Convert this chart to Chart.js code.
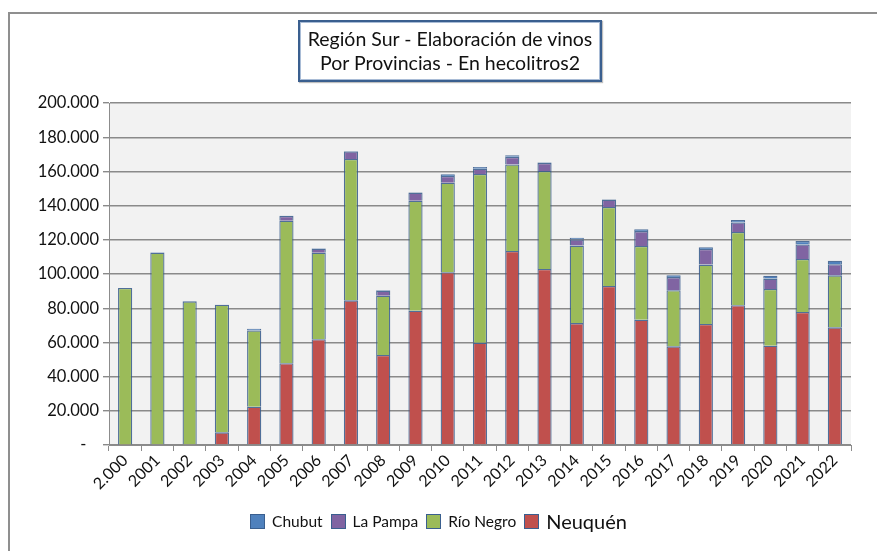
<!DOCTYPE html>
<html>
<head>
<meta charset="utf-8">
<script src="https://cdn.jsdelivr.net/npm/chart.js@4/dist/chart.umd.min.js"></script>
<style>
  html, body { margin: 0; padding: 0; background: #fff; }
  #wrap { position: relative; width: 877px; height: 551px; overflow: hidden; font-family: Lato, "Open Sans", sans-serif; }
  #frame { position: absolute; left: 8px; top: 12px; width: 900px; height: 600px; border: 2px solid #8f8f8f; box-sizing: border-box; }
  #title { position: absolute; left: 298px; top: 20px; width: 304px; height: 62px; box-sizing: border-box;
           border: 2px solid #3a5f8f; box-shadow: inset 0 0 0 1px #a9bcd6, 1px 1px 1px rgba(0,0,0,0.25);
           background: #fff; text-align: center; font-size: 19.5px; line-height: 24px; padding-top: 5px; color: #111; white-space: nowrap; }
  #legend { position: absolute; top: 509px; left: 0; width: 877px; display: flex; justify-content: center; align-items: center; font-size: 15.5px; color: #111; }
  .item { display: flex; align-items: center; margin: 0 4px; }
  .box { width: 13px; height: 13px; border: 1px solid #3a5f8f; margin-right: 7px; }
  canvas { position: absolute; left: 0; top: 0; }
</style>
</head>
<body>
<div id="wrap">
  <div id="frame"></div>
  <canvas id="c" width="877" height="551"></canvas>
  <div id="title">Región Sur - Elaboración de vinos<br>Por Provincias - En hecolitros2</div>
  <div id="legend"></div>
</div>
<script>
const years = ['2.000','2001','2002','2003','2004','2005','2006','2007','2008','2009','2010','2011','2012','2013','2014','2015','2016','2017','2018','2019','2020','2021','2022'];
const neuquen  = [300,500,500,7400,22400,47800,61800,84600,52600,78500,101000,59800,113500,102900,71300,93000,73300,57700,70800,81700,58100,77800,68800];
const rioNegro = [91500,112000,83500,74600,44600,83400,50700,82700,34700,64400,52400,98700,50600,57300,45300,46200,43100,32800,34700,42900,33100,31000,30400];
const laPampa  = [0,0,0,0,0,2800,2300,4400,3000,4700,3900,3100,4400,4800,3600,4300,8700,7700,9100,5500,6100,8500,6500];
const chubut   = [0,200,0,0,1000,100,200,200,300,200,1000,1000,900,300,1000,200,1000,1000,1000,1500,1700,2000,2100];
const yTicks = [0,20000,40000,60000,80000,100000,120000,140000,160000,180000,200000];

const series = [
  { label: 'Neuquén',   data: neuquen,  color: '#C0504D' },
  { label: 'Río Negro', data: rioNegro, color: '#9BBB59' },
  { label: 'La Pampa',  data: laPampa,  color: '#8064A2' },
  { label: 'Chubut',    data: chubut,   color: '#4F81BD' }
];

const bg = {
  id: 'bg',
  beforeDraw(chart) {
    const a = chart.chartArea, ctx = chart.ctx;
    ctx.save(); ctx.fillStyle = '#F2F2F2';
    ctx.fillRect(a.left, a.top, a.right - a.left, a.bottom - a.top);
    ctx.restore();
  }
};

function fmt(v) {
  if (v === 0) return '-   ';
  return Math.round(v).toString().replace(/\B(?=(\d{3})+(?!\d))/g, '.');
}

new Chart(document.getElementById('c'), {
  type: 'bar',
  data: {
    labels: years,
    datasets: series.map(s => ({
      label: s.label, data: s.data, backgroundColor: s.color,
      borderColor: 'rgba(52,88,138,0.85)', borderWidth: 1.3,
      categoryPercentage: 1, barPercentage: 0.44
    }))
  },
  options: {
    responsive: false, animation: false,
    layout: { padding: { top: 103, right: 26, bottom: 0, left: 0 } },
    plugins: { legend: { display: false }, title: { display: false }, tooltip: { enabled: false } },
    scales: {
      x: {
        stacked: true,
        afterFit(s) { s.height = 106; },
        grid: { drawOnChartArea: false, drawTicks: true, tickLength: 6, color: '#8c8c8c', lineWidth: 1 },
        border: { color: '#8c8c8c', width: 1 },
        ticks: { maxRotation: 45, minRotation: 45, autoSkip: false, color: '#111', font: { family: 'Lato', size: 16 }, padding: 0 }
      },
      y: {
        stacked: true, min: 0, max: 200000,
        afterFit(s) { s.width = 109; },
        afterBuildTicks(s) { s.ticks = yTicks.map(v => ({ value: v })); },
        grid: { color: '#8a8a8a', lineWidth: 1.4, drawTicks: true, tickLength: 6 },
        border: { color: '#8c8c8c', width: 1 },
        ticks: { callback: v => fmt(v), color: '#111', font: { family: 'Lato', size: 16.5 }, padding: 4 }
      }
    }
  },
  plugins: [bg]
});

const legend = document.getElementById('legend');
['Chubut','La Pampa','Río Negro','Neuquén'].forEach(name => {
  const s = series.find(x => x.label === name);
  const it = document.createElement('div'); it.className = 'item';
  const b = document.createElement('div'); b.className = 'box'; b.style.background = s.color;
  const t = document.createElement('span'); t.textContent = name;
  if (name === 'Neuquén') t.style.fontSize = '20px';
  it.appendChild(b); it.appendChild(t); legend.appendChild(it);
});
</script>
</body>
</html>
